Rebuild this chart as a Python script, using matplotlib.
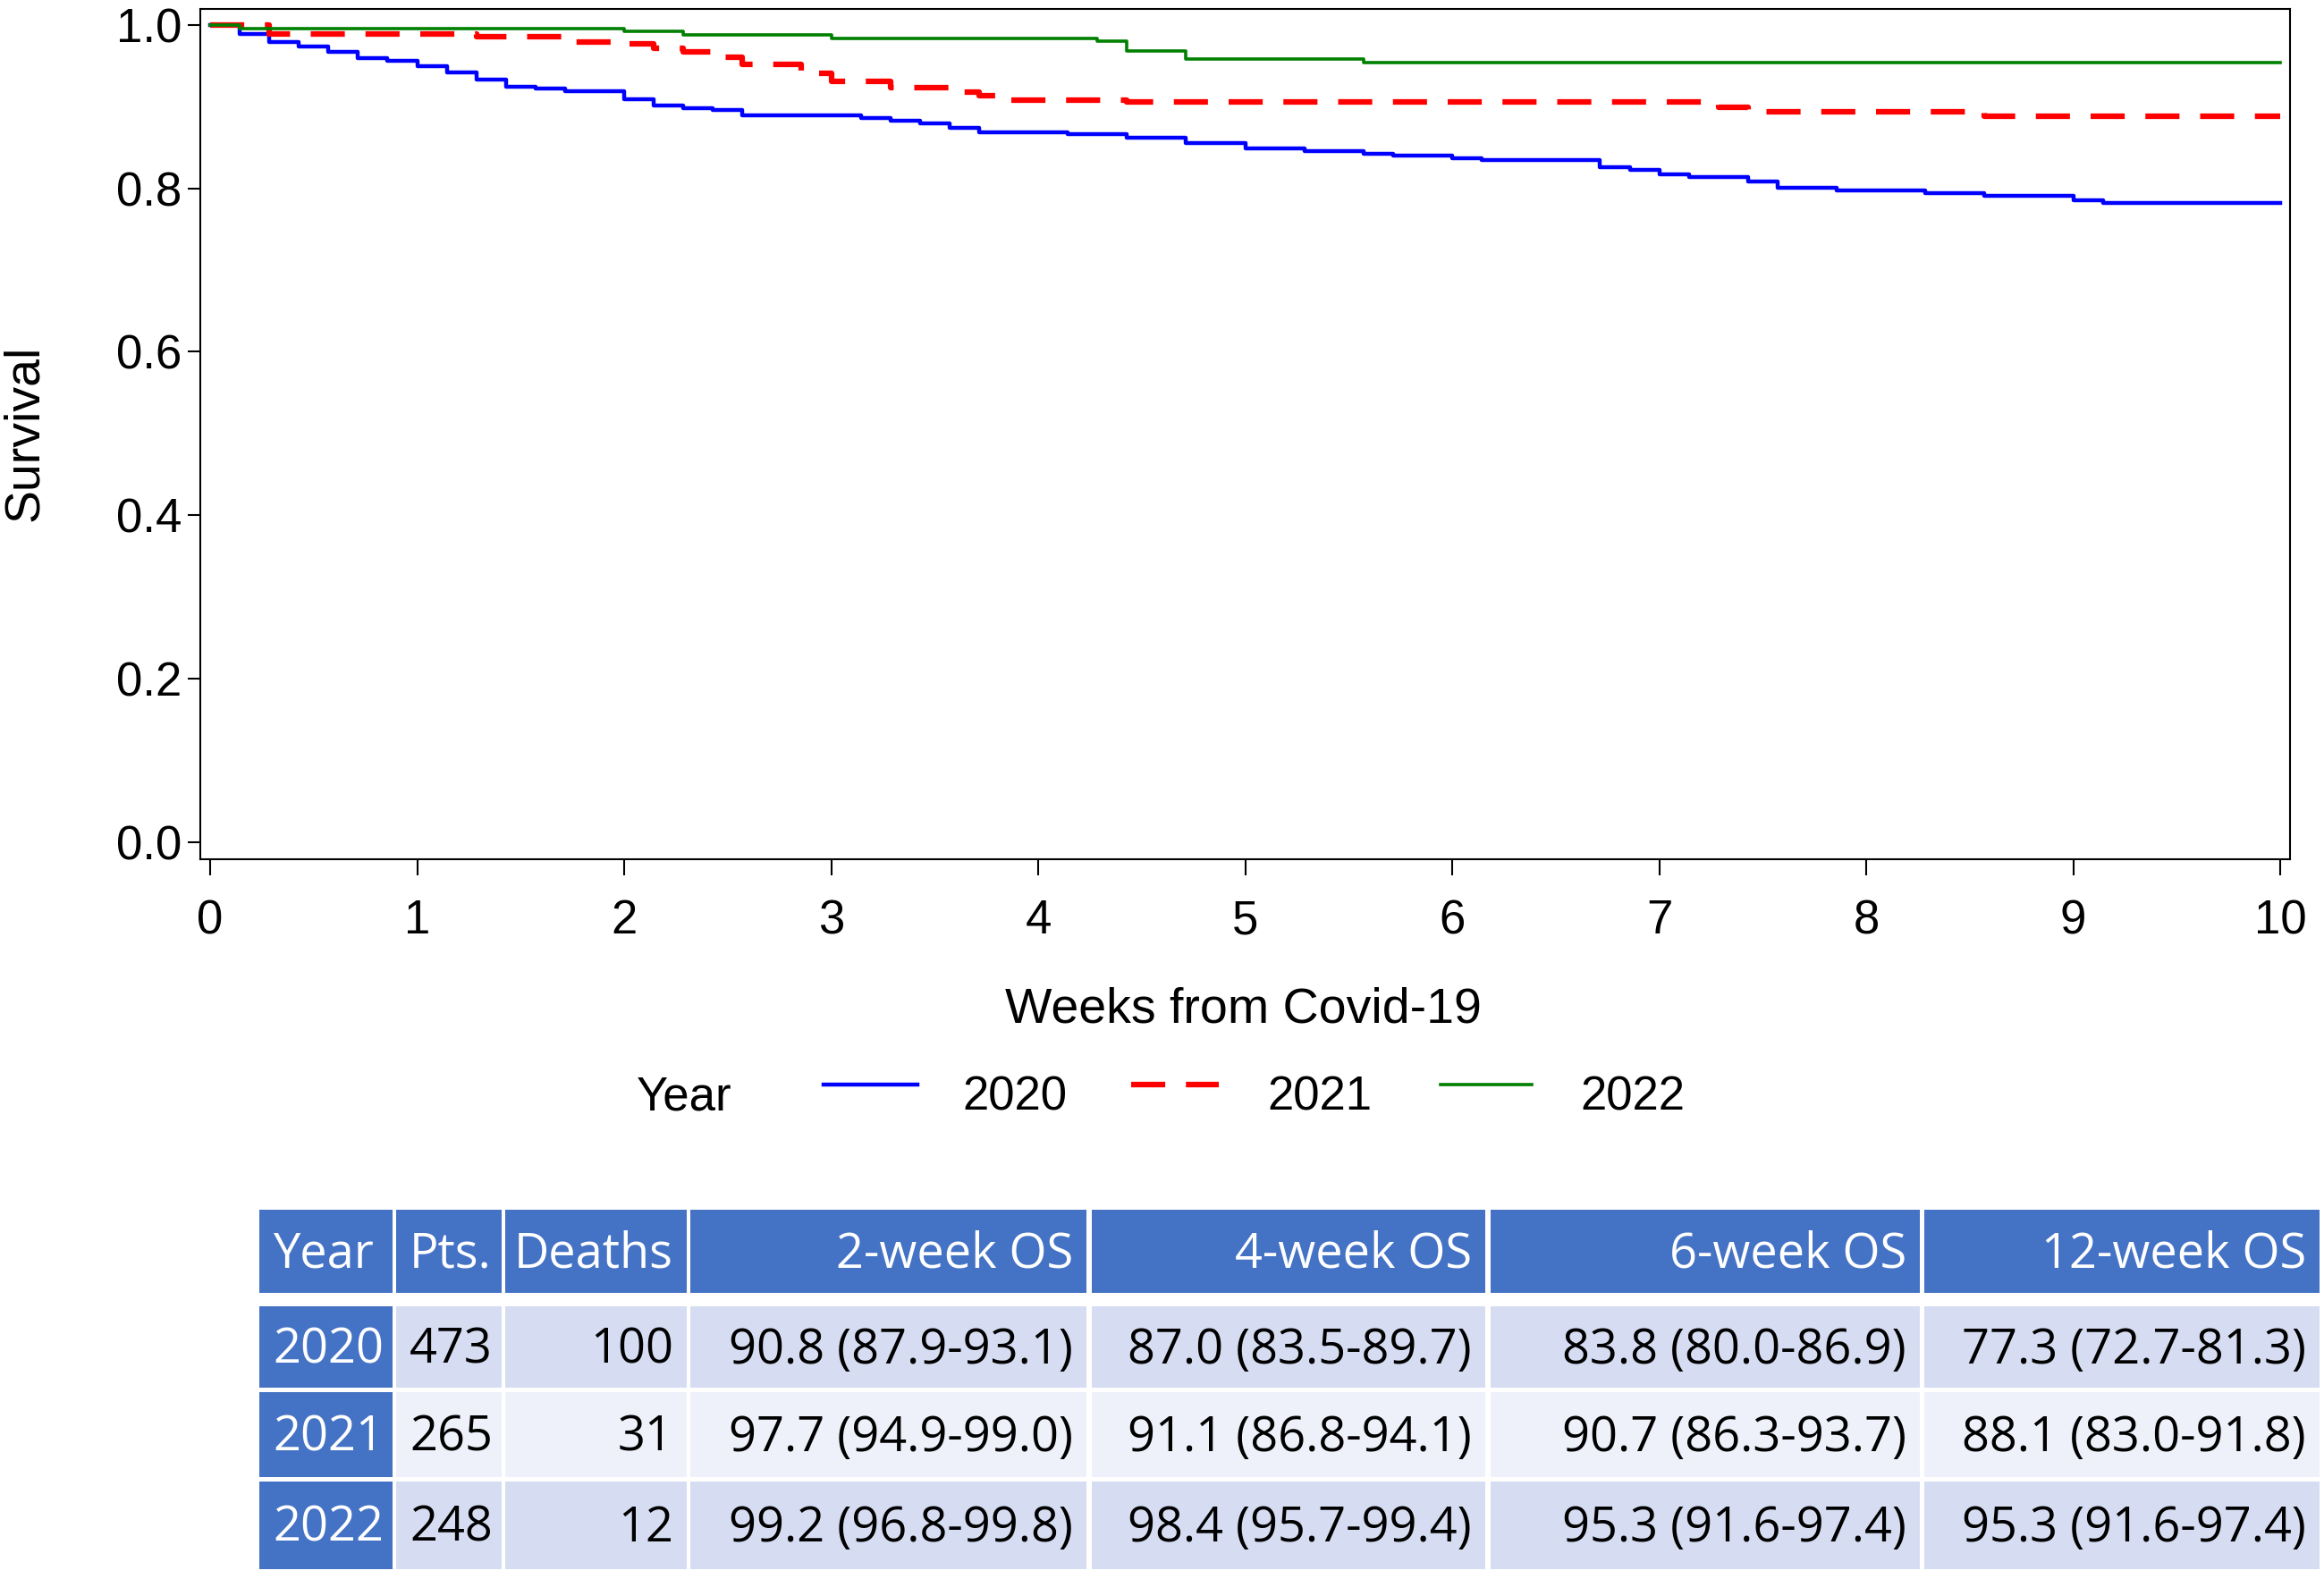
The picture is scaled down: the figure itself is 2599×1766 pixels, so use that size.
import numpy as np
import matplotlib
matplotlib.use("Agg")
import matplotlib.pyplot as plt
from matplotlib.lines import Line2D
from matplotlib.patches import Rectangle

# Kaplan-Meier steps (days since Covid-19, survival)
days_2020 = [0, 1, 2, 3, 4, 5, 6, 7, 8, 9, 10, 11, 12, 14, 15, 16, 17, 18, 22, 23, 24,
             25, 26, 29, 31, 33, 35, 37, 39, 40, 42, 43, 47, 48, 49, 50, 52, 53, 55,
             58, 60, 63, 64, 70]
surv_2020 = [1.0, 0.989, 0.9795, 0.974, 0.9675, 0.9595, 0.956, 0.950, 0.942, 0.933,
             0.925, 0.922, 0.919, 0.909, 0.901, 0.898, 0.8956, 0.889, 0.8866, 0.883,
             0.880, 0.8745, 0.869, 0.866, 0.8616, 0.855, 0.849, 0.8456, 0.8427, 0.8398,
             0.837, 0.8344, 0.826, 0.8226, 0.817, 0.8135, 0.808, 0.8007, 0.797, 0.794,
             0.791, 0.7853, 0.7825, 0.7825]

days_2021 = [0, 2, 9, 12, 14, 15, 16, 17, 18, 20, 21, 23, 25, 26, 27, 31, 51, 52, 60, 70]
surv_2021 = [1.0, 0.989, 0.986, 0.979, 0.977, 0.971, 0.967, 0.961, 0.9515, 0.941, 0.931,
             0.923, 0.9175, 0.914, 0.908, 0.9055, 0.899, 0.894, 0.888, 0.888]

days_2022 = [0, 1, 14, 16, 21, 30, 31, 33, 39, 70]
surv_2022 = [1.0, 0.996, 0.992, 0.988, 0.984, 0.980, 0.968, 0.958, 0.954, 0.954]

# summary table
years = ["2020", "2021", "2022"]
header = ["Year", "Pts.", "Deaths", "2-week OS", "4-week OS", "6-week OS", "12-week OS"]
pts = ["473", "265", "248"]
deaths = ["100", "31", "12"]
os_2wk = ["90.8 (87.9-93.1)", "97.7 (94.9-99.0)", "99.2 (96.8-99.8)"]
os_4wk = ["87.0 (83.5-89.7)", "91.1 (86.8-94.1)", "98.4 (95.7-99.4)"]
os_6wk = ["83.8 (80.0-86.9)", "90.7 (86.3-93.7)", "95.3 (91.6-97.4)"]
os_12wk = ["77.3 (72.7-81.3)", "88.1 (83.0-91.8)", "95.3 (91.6-97.4)"]

W, H = 2599, 1766
plt.rcParams["font.family"] = ["Liberation Sans", "DejaVu Sans"]

fig = plt.figure(figsize=(W / 100, H / 100), dpi=100)
ax = fig.add_axes([224 / W, 1 - 961 / H, (2561 - 224) / W, (961 - 10) / H])

ax.step(np.array(days_2020) / 7, surv_2020, where="post", color="#0000ff", lw=3.2)
ax.step(np.array(days_2021) / 7, surv_2021, where="post", color="#ff0000", lw=4.5,
        dashes=(6.1, 3.7))
ax.step(np.array(days_2022) / 7, surv_2022, where="post", color="#008000", lw=2.6)

ax.set_xlim(-0.0475, 10.047)
ax.set_ylim(-0.0213, 1.0197)
ax.set_xticks(range(0, 11))
ax.set_yticks([0.0, 0.2, 0.4, 0.6, 0.8, 1.0])
ax.set_yticklabels(["0.0", "0.2", "0.4", "0.6", "0.8", "1.0"])
ax.tick_params(axis="x", labelsize=38, length=13, width=1.5, pad=19)
ax.tick_params(axis="y", labelsize=38, length=10, width=1.5, pad=5)
for sp in ax.spines.values():
    sp.set_linewidth(1.5)
    sp.set_color("black")

fig.text(28 / W, 1 - 484 / H, "Survival", fontsize=40, rotation=90,
         ha="center", va="center")
fig.text(1390 / W, 1 - 1144 / H, "Weeks from Covid-19", fontsize=40,
         ha="center", va="baseline")

# legend row
leg_y = 1 - 1213 / H
fig.text(712 / W, 1 - 1242 / H, "Year", fontsize=38, ha="left", va="baseline")
leg_items = [(921, 1026, 1076, "#0000ff", 3.2, None),
             (1265, 1363, 1417, "#ff0000", 4.5, (6.1, 3.7)),
             (1611, 1713, 1767, "#008000", 2.6, None)]
for (x0, x1, tx, c, lw, ds), lab in zip(leg_items, years):
    ln = Line2D([x0 / W, x1 / W], [leg_y, leg_y], transform=fig.transFigure,
                color=c, lw=lw)
    if ds:
        ln.set_dashes(ds)
    fig.add_artist(ln)
    fig.text(tx / W, 1 - 1242 / H, lab, fontsize=38, ha="left", va="baseline")

# table drawn in pixel space
tab = fig.add_axes([0, 0, 1, 1], zorder=-1)
tab.set_xlim(0, W)
tab.set_ylim(H, 0)
tab.axis("off")

col_l = [290, 443, 565, 772, 1221, 1667, 2152]
col_r = [439, 561, 768, 1215, 1661, 2147, 2594]
row_t = [1353, 1461, 1557, 1657]
row_b = [1446, 1552, 1652, 1755]
head_align = ["left", "left", "right", "right", "right", "right", "right"]
body_align = ["left", "left", "right", "right", "right", "right", "right"]
blue = "#4472c4"
bands = ["#d6ddf2", "#eef1fa", "#d6ddf2"]
tfont = ["Open Sans", "DejaVu Sans"]
pad = 15

def put(text, c, r, align, color):
    x = col_l[c] + pad if align == "left" else col_r[c] - pad
    yb = (row_t[r] + row_b[r]) / 2 + 18
    tab.text(x, yb, text, ha=align, va="baseline", fontsize=39, color=color,
             family=tfont)

for c, h in enumerate(header):
    tab.add_patch(Rectangle((col_l[c], row_t[0]), col_r[c] - col_l[c],
                            row_b[0] - row_t[0], color=blue, lw=0))
    put(h, c, 0, head_align[c], "white")

body = list(zip(years, pts, deaths, os_2wk, os_4wk, os_6wk, os_12wk))
for i, row in enumerate(body):
    r = i + 1
    for c, val in enumerate(row):
        fc = blue if c == 0 else bands[i]
        tab.add_patch(Rectangle((col_l[c], row_t[r]), col_r[c] - col_l[c],
                                row_b[r] - row_t[r], color=fc, lw=0))
        put(val, c, r, body_align[c], "white" if c == 0 else "black")

fig.savefig("out.png", dpi=100)
